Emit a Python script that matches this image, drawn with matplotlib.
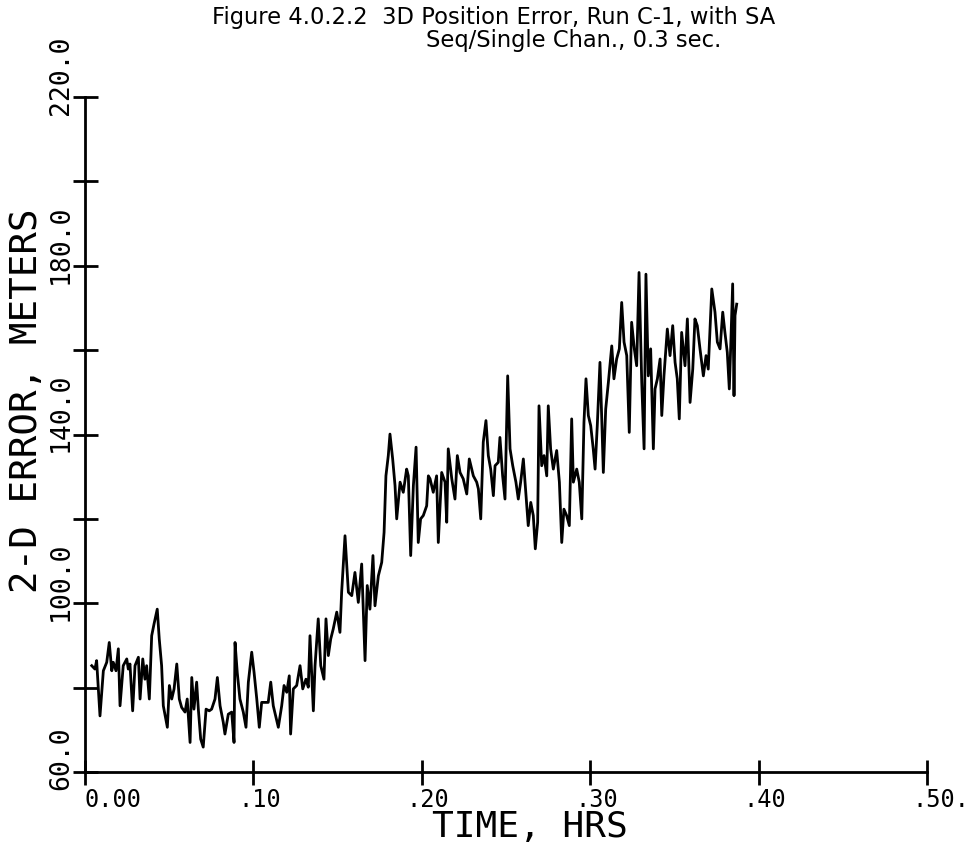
import numpy as np
import matplotlib.pyplot as plt
import matplotlib.transforms as mtransforms

# 2-D error trace (hours, meters)
time_hrs = [
    0.0040, 0.0059, 0.0069, 0.0089, 0.0109, 0.0129, 0.0144, 0.0159, 0.0168, 0.0184,
    0.0198, 0.0208, 0.0227, 0.0248, 0.0257, 0.0267, 0.0283, 0.0297, 0.0317, 0.0327,
    0.0343, 0.0356, 0.0366, 0.0382, 0.0396, 0.0410, 0.0429, 0.0441, 0.0455, 0.0465,
    0.0489, 0.0501, 0.0515, 0.0529, 0.0545, 0.0560, 0.0574, 0.0594, 0.0607, 0.0624,
    0.0634, 0.0647, 0.0663, 0.0673, 0.0687, 0.0702, 0.0719, 0.0738, 0.0752, 0.0772,
    0.0786, 0.0802, 0.0821, 0.0831, 0.0851, 0.0871, 0.0885, 0.0891, 0.0904, 0.0920,
    0.0940, 0.0956, 0.0970, 0.0990, 0.1004, 0.1020, 0.1035, 0.1049, 0.1069, 0.1088,
    0.1103, 0.1118, 0.1148, 0.1168, 0.1182, 0.1198, 0.1213, 0.1221, 0.1237, 0.1257,
    0.1277, 0.1293, 0.1312, 0.1326, 0.1336, 0.1356, 0.1366, 0.1385, 0.1400, 0.1419,
    0.1431, 0.1445, 0.1459, 0.1474, 0.1495, 0.1514, 0.1524, 0.1544, 0.1564, 0.1584,
    0.1603, 0.1623, 0.1643, 0.1663, 0.1676, 0.1692, 0.1710, 0.1722, 0.1742, 0.1762,
    0.1776, 0.1787, 0.1801, 0.1811, 0.1827, 0.1841, 0.1851, 0.1871, 0.1890, 0.1910,
    0.1920, 0.1934, 0.1950, 0.1966, 0.1979, 0.1993, 0.2009, 0.2029, 0.2039, 0.2049,
    0.2068, 0.2088, 0.2098, 0.2118, 0.2138, 0.2148, 0.2157, 0.2178, 0.2197, 0.2211,
    0.2227, 0.2246, 0.2267, 0.2282, 0.2306, 0.2326, 0.2336, 0.2350, 0.2365, 0.2381,
    0.2395, 0.2409, 0.2425, 0.2435, 0.2454, 0.2464, 0.2480, 0.2494, 0.2510, 0.2524,
    0.2540, 0.2559, 0.2573, 0.2587, 0.2603, 0.2619, 0.2632, 0.2647, 0.2662, 0.2674,
    0.2688, 0.2696, 0.2712, 0.2726, 0.2742, 0.2751, 0.2765, 0.2781, 0.2801, 0.2817,
    0.2831, 0.2844, 0.2860, 0.2876, 0.2890, 0.2900, 0.2920, 0.2935, 0.2950, 0.2963,
    0.2975, 0.2989, 0.3003, 0.3018, 0.3029, 0.3042, 0.3058, 0.3068, 0.3078, 0.3092,
    0.3108, 0.3128, 0.3141, 0.3157, 0.3173, 0.3187, 0.3201, 0.3217, 0.3232, 0.3246,
    0.3262, 0.3276, 0.3290, 0.3306, 0.3320, 0.3331, 0.3345, 0.3359, 0.3375, 0.3385,
    0.3399, 0.3415, 0.3425, 0.3438, 0.3458, 0.3474, 0.3490, 0.3504, 0.3517, 0.3529,
    0.3543, 0.3563, 0.3577, 0.3593, 0.3609, 0.3622, 0.3636, 0.3652, 0.3672, 0.3688,
    0.3701, 0.3722, 0.3741, 0.3755, 0.3771, 0.3787, 0.3800, 0.3814, 0.3826, 0.3834,
    0.3846, 0.3854, 0.3860, 0.3870,
]
error_m = [
    85.2, 84.4, 86.4, 73.3, 84.0, 86.0, 90.7, 84.0, 86.0, 84.0,
    89.2, 75.7, 85.2, 86.8, 84.4, 85.6, 74.5, 85.2, 87.2, 77.3,
    86.8, 82.0, 85.2, 77.3, 92.3, 95.1, 98.6, 91.5, 85.2, 75.7,
    70.6, 80.5, 77.3, 79.7, 85.6, 77.3, 75.3, 74.2, 77.3, 67.0,
    82.4, 74.9, 81.3, 74.9, 67.8, 65.9, 74.9, 74.5, 74.9, 77.3,
    82.4, 75.7, 71.8, 69.0, 73.7, 74.2, 67.0, 90.7, 83.6, 77.3,
    74.2, 70.6, 81.3, 88.4, 83.6, 77.3, 70.6, 76.5, 76.5, 76.5,
    81.3, 75.7, 70.6, 75.7, 80.5, 78.9, 82.8, 69.0, 79.7, 80.5,
    85.2, 79.7, 82.0, 80.1, 92.3, 74.5, 85.2, 96.3, 85.2, 82.0,
    96.3, 87.6, 91.5, 93.9, 97.9, 93.1, 102.6, 116.0, 102.6, 101.8,
    107.3, 100.2, 109.3, 86.4, 104.2, 98.6, 111.3, 99.4, 106.5, 109.7,
    116.8, 130.2, 135.0, 140.1, 134.2, 127.9, 120.0, 128.7, 126.3, 131.8,
    130.2, 111.3, 127.9, 137.0, 114.4, 120.0, 120.8, 123.1, 130.2, 129.5,
    126.3, 130.2, 114.4, 131.0, 128.7, 119.2, 136.6, 129.5, 124.7, 135.0,
    131.0, 129.5, 125.9, 134.2, 130.2, 128.7, 127.1, 120.0, 138.2, 143.3,
    135.0, 131.8, 125.5, 132.6, 133.4, 139.3, 130.2, 124.7, 153.9, 136.6,
    132.6, 128.7, 124.7, 128.7, 134.2, 125.5, 118.4, 123.9, 120.8, 112.9,
    119.2, 146.8, 132.6, 135.0, 130.2, 146.8, 136.6, 131.8, 136.2, 128.7,
    114.4, 122.3, 120.8, 118.4, 143.7, 128.7, 131.8, 128.7, 120.0, 142.9,
    153.2, 144.5, 142.1, 136.6, 131.8, 142.1, 157.1, 144.5, 131.0, 146.0,
    152.4, 161.0, 153.2, 157.9, 160.3, 171.3, 161.9, 158.7, 140.5, 166.6,
    160.3, 156.3, 178.4, 152.4, 136.6, 178.0, 153.9, 160.3, 136.6, 150.8,
    153.2, 157.9, 144.5, 153.9, 165.0, 158.7, 165.8, 157.1, 153.2, 143.7,
    164.2, 156.3, 167.4, 147.6, 155.5, 167.4, 165.8, 160.3, 153.9, 158.7,
    155.5, 174.5, 169.0, 161.9, 160.3, 169.0, 164.2, 159.5, 150.8, 160.3,
    175.7, 149.2, 168.2, 170.9,
]

x_ticks = [0.0, 0.1, 0.2, 0.3, 0.4, 0.5]
x_tick_labels = ['0.00', '.10', '.20', '.30', '.40', '.50.']
y_ticks = [60, 80, 100, 120, 140, 160, 180, 200, 220]
y_label_values = [60, 100, 140, 180, 220]
y_tick_labels = ['60.0', '100.0', '140.0', '180.0', '220.0']

MONO = 'DejaVu Sans Mono'

fig = plt.figure(figsize=(9.7, 8.45), dpi=100)
ax = fig.add_axes([85 / 970, 72 / 845, 842 / 970, 675 / 845])

ax.plot(time_hrs, error_m, color='black', lw=2.0)
ax.set_xlim(0, 0.5)
ax.set_ylim(60, 220)

for side in ['top', 'right']:
    ax.spines[side].set_visible(False)
for side in ['left', 'bottom']:
    ax.spines[side].set_linewidth(2)

ax.set_xticks(x_ticks)
ax.set_yticks(y_ticks)
ax.tick_params(direction='inout', length=18, width=2,
               labelbottom=False, labelleft=False)

# plotter-style tick labels, offset like the original
for xv, lab in zip(x_ticks, x_tick_labels):
    dx = 0 if lab.startswith('0') else -15
    off = mtransforms.ScaledTranslation(dx / 100, -34 / 100, fig.dpi_scale_trans)
    ax.text(xv, 0, lab, transform=ax.get_xaxis_transform() + off,
            ha='left', va='baseline', fontsize=17, family=MONO)

for yv, lab in zip(y_label_values, y_tick_labels):
    off = mtransforms.ScaledTranslation(0, -17 / 100, fig.dpi_scale_trans)
    ax.text(-0.0285, yv, lab, transform=ax.get_yaxis_transform() + off,
            rotation=90, ha='center', va='bottom', fontsize=19, family=MONO)

fig.text(27 / 970, 1 - 401 / 845, '2-D ERROR, METERS', rotation=90,
         ha='center', va='center', fontsize=27, family=MONO)
fig.text(530 / 970, 1 - 837 / 845, 'TIME, HRS',
         ha='center', va='baseline', fontsize=26, family=MONO)

fig.text(212 / 970, 1 - 6 / 845,
         'Figure 4.0.2.2  3D Position Error, Run C-1, with SA',
         ha='left', va='top', fontsize=16.3)
fig.text(426 / 970, 1 - 29 / 845, 'Seq/Single Chan., 0.3 sec.',
         ha='left', va='top', fontsize=16.3)

fig.savefig('out.png', dpi=100)
